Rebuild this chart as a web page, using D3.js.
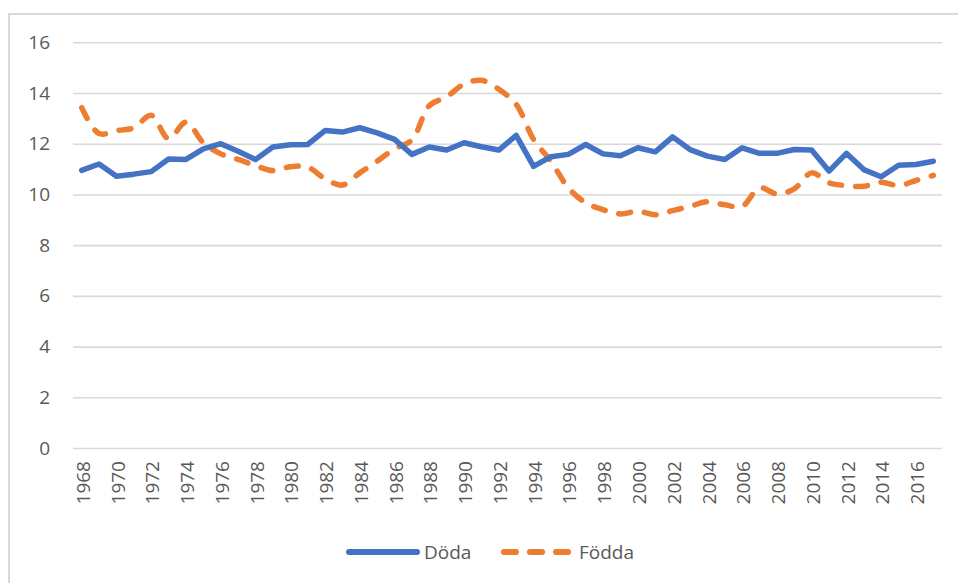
<!DOCTYPE html>
<html>
<head>
<meta charset="utf-8">
<script src="https://cdn.jsdelivr.net/npm/d3@7"></script>
<style>
  body { margin: 0; background: #fff; }
  svg text { font-family: "Open Sans", "Liberation Sans", sans-serif; fill: #595959; }
</style>
</head>
<body>
<svg id="chart" width="958" height="583"></svg>
<script>
const years = [1968, 1969, 1970, 1971, 1972, 1973, 1974, 1975, 1976, 1977,
  1978, 1979, 1980, 1981, 1982, 1983, 1984, 1985, 1986, 1987,
  1988, 1989, 1990, 1991, 1992, 1993, 1994, 1995, 1996, 1997,
  1998, 1999, 2000, 2001, 2002, 2003, 2004, 2005, 2006, 2007,
  2008, 2009, 2010, 2011, 2012, 2013, 2014, 2015, 2016, 2017];

const doda = [10.95, 11.2, 10.72, 10.8, 10.9, 11.4, 11.38, 11.8, 12.0, 11.7,
  11.38, 11.87, 11.96, 11.97, 12.52, 12.46, 12.63, 12.43, 12.17, 11.58,
  11.87, 11.75, 12.04, 11.88, 11.75, 12.33, 11.11, 11.49, 11.58, 11.97,
  11.6, 11.53, 11.84, 11.68, 12.27, 11.77, 11.51, 11.38, 11.84, 11.62,
  11.62, 11.77, 11.75, 10.92, 11.62, 10.98, 10.7, 11.15, 11.18, 11.31];

const fodda = [13.42, 12.4, 12.52, 12.63, 13.12, 12.2, 12.85, 12.04, 11.6, 11.38,
  11.14, 10.94, 11.09, 11.08, 10.62, 10.37, 10.85, 11.31, 11.8, 12.15,
  13.5, 13.85, 14.35, 14.5, 14.15, 13.55, 12.17, 11.31, 10.26, 9.67,
  9.4, 9.23, 9.34, 9.2, 9.36, 9.53, 9.71, 9.59, 9.53, 10.26,
  10.02, 10.22, 10.85, 10.46, 10.35, 10.32, 10.48, 10.35, 10.55, 10.75];

const yTicks = [0, 2, 4, 6, 8, 10, 12, 14, 16];
const seriesNames = ['Döda', 'Födda'];

const blue = '#4472c4';
const orange = '#ed7d31';
const fontSize = 19;

const svg = d3.select('#chart');

// chart frame (only top and left edges are in view)
svg.append('rect')
  .attr('x', 9).attr('y', 14)
  .attr('width', 1000).attr('height', 600)
  .attr('fill', 'none')
  .attr('stroke', '#d9d9d9')
  .attr('stroke-width', 2);

const plotLeft = 73, plotRight = 942, plotTop = 42.3, plotBottom = 448;

const x = d3.scalePoint().domain(years).range([plotLeft, plotRight]).padding(0.5);
const y = d3.scaleLinear().domain([0, 16]).range([plotBottom, plotTop]);

const yAxis = svg.append('g')
  .attr('transform', `translate(${plotLeft},0)`)
  .call(d3.axisLeft(y).tickValues(yTicks)
    .tickSizeInner(-(plotRight - plotLeft)).tickSizeOuter(0).tickPadding(23));
yAxis.select('.domain').remove();
yAxis.selectAll('.tick line').attr('stroke', '#d9d9d9').attr('stroke-width', 1.6);
yAxis.selectAll('.tick text').attr('font-size', fontSize).style('fill', '#595959');

const xAxis = svg.append('g')
  .attr('transform', `translate(0,${plotBottom})`)
  .call(d3.axisBottom(x).tickValues(years.filter(d => d % 2 === 0)).tickSize(0));
xAxis.select('.domain').remove();
xAxis.selectAll('.tick text')
  .attr('font-size', fontSize)
  .style('fill', '#595959')
  .attr('text-anchor', 'end')
  .attr('transform', 'rotate(-90)')
  .attr('x', -13)
  .attr('y', 1)
  .attr('dy', '0.35em');

const lineDoda = d3.line()
  .x((d, i) => x(years[i]))
  .y(d => y(d));

const lineFodda = d3.line()
  .x((d, i) => x(years[i]))
  .y(d => y(d))
  .curve(d3.curveCatmullRom);

svg.append('path')
  .datum(fodda)
  .attr('d', lineFodda)
  .attr('fill', 'none')
  .attr('stroke', orange)
  .attr('stroke-width', 5.5)
  .attr('stroke-linecap', 'round')
  .attr('stroke-dasharray', '12,14');

svg.append('path')
  .datum(doda)
  .attr('d', lineDoda)
  .attr('fill', 'none')
  .attr('stroke', blue)
  .attr('stroke-width', 5.5)
  .attr('stroke-linejoin', 'round')
  .attr('stroke-linecap', 'round');

// legend
const legend = svg.append('g').attr('transform', 'translate(0,552)');
const legendItems = [
  { name: seriesNames[0], color: blue, dash: null, x0: 349 },
  { name: seriesNames[1], color: orange, dash: '12,14', x0: 504 }
];
legendItems.forEach(it => {
  legend.append('line')
    .attr('x1', it.x0).attr('x2', it.x0 + 68)
    .attr('y1', 0).attr('y2', 0)
    .attr('stroke', it.color)
    .attr('stroke-width', 6)
    .attr('stroke-linecap', 'round')
    .attr('stroke-dasharray', it.dash);
  legend.append('text')
    .attr('x', it.x0 + 75)
    .attr('y', 0)
    .attr('dy', '0.35em')
    .attr('font-size', fontSize)
    .text(it.name);
});
</script>
</body>
</html>
